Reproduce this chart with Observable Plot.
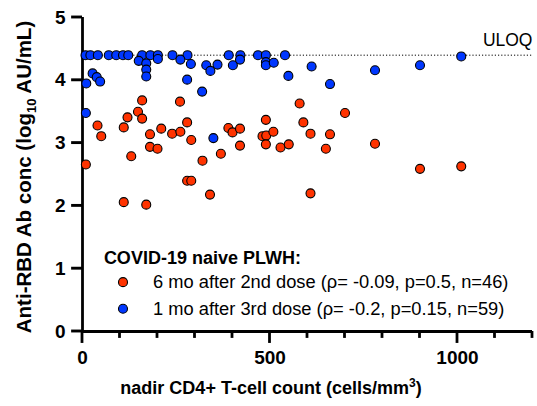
<!DOCTYPE html>
<html><head><meta charset="utf-8">
<script src="https://cdn.jsdelivr.net/npm/d3@7"></script>
<script src="https://cdn.jsdelivr.net/npm/@observablehq/plot@0.6"></script>
<style>body{margin:0;background:#fff} #chart svg{display:block}</style>
</head><body><div id="chart"></div>
<script>
// 6 mo after 2nd dose (red)
const redX = [159,260,579,148,159,120,40,110,50,180,210,239,261,279,290,389,400,420,489,480,490,509,589,608,180,200,420,489,528,550,9,130,320,369,279,290,340,608,110,170,700,660,649,780,900,1010];
const redY = [3.68,3.66,3.63,3.50,3.39,3.41,3.28,3.25,3.11,3.14,3.23,3.15,3.18,3.33,3.05,3.24,3.17,3.23,3.37,3.11,3.12,3.18,3.33,3.15,2.94,2.91,2.96,2.98,2.93,2.98,2.66,2.79,2.72,2.83,2.40,2.40,2.18,2.20,2.06,2.02,3.48,3.14,2.91,2.99,2.59,2.63];
// 1 mo after 3rd dose (blue)
const blueX = [8,21,41,70,90,108,122,159,181,201,240,280,390,421,468,489,540,1010,
  150,170,201,170,170,27,38,47,10,261,289,330,341,360,401,420,489,489,510,611,549,660,780,900,279,319,9,349];
const blueY = [4.40,4.40,4.40,4.40,4.40,4.40,4.40,4.40,4.40,4.40,4.40,4.40,4.40,4.40,4.40,4.40,4.40,4.38,
  4.31,4.27,4.34,4.17,4.06,4.11,4.05,3.98,3.95,4.33,4.26,4.24,4.15,4.25,4.24,4.33,4.29,4.24,4.28,4.22,4.07,3.94,4.16,4.24,4.01,3.82,3.48,3.08];

const uloq = 4.4;
const uloqLabel = "ULOQ";
const yTicks = [0,1,2,3,4,5];
const xMajor = [0,500,1000];
const xMinor = [100,200,300,400,600,700,800,900,1100,1200];
const seriesNames = ["6 mo after 2nd dose (ρ= -0.09, p=0.5, n=46)", "1 mo after 3rd dose (ρ= -0.2, p=0.15, n=59)"];
const seriesColors = ["#ff3300", "#0037ff"];
const legendTitle = "COVID-19 naive PLWH:";
// legend placement (in data units)
const legendDotX = 108, legendTextX = 188, legendTitleX = 57;
const legendRowY = [0.786, 0.362], legendTitleY = 1.164;
// tick lengths / half thickness (in data units)
const yTickLen = 29, xMajorLen = 0.19, xMinorLen = 0.11;
const yTickHalf = 0.023, xTickHalf = 3.7;

const red = redX.map((x, i) => ({x, y: redY[i]}));
const blue = blueX.map((x, i) => ({x, y: blueY[i]}));
const legendRows = seriesNames.map((name, i) => ({name, y: legendRowY[i]}));

const dotOpts = {r: 4.5, stroke: "#000", strokeWidth: 1.1};
const axisStroke = {stroke: "#000", strokeWidth: 2.8};

const plot = Plot.plot({
  width: 537, height: 406,
  marginLeft: 82, marginRight: 5, marginTop: 17, marginBottom: 75,
  style: {fontFamily: "'Liberation Sans', Arial, sans-serif", fontSize: "18px", color: "#000", background: "#fff"},
  x: {domain: [0, 1200]},
  y: {domain: [0, 5]},
  marks: [
    Plot.ruleY([uloq], {stroke: "#000", strokeWidth: 1, strokeDasharray: "1.2,2"}),
    Plot.text([uloqLabel], {x: 1200, y: uloq, text: d => d, textAnchor: "end", dy: -15, fontSize: 17.5}),
    Plot.axisY({ticks: yTicks, tickSize: 0, tickPadding: 17, tickFormat: d => String(d), fontWeight: "bold", fontSize: 19, label: null}),
    Plot.axisX({ticks: xMajor, tickSize: 0, tickPadding: 19, tickFormat: d => String(d), fontWeight: "bold", fontSize: 19, label: null}),
    // tick marks as filled rects
    Plot.rect(yTicks, {x1: -yTickLen, x2: 0, y1: d => d - yTickHalf, y2: d => d + yTickHalf, fill: "#000"}),
    Plot.rect(xMajor, {x1: d => d - xTickHalf, x2: d => d + xTickHalf, y1: -xMajorLen, y2: 0, fill: "#000"}),
    Plot.rect(xMinor, {x1: d => d - xTickHalf, x2: d => d + xTickHalf, y1: -xMinorLen, y2: 0, fill: "#000"}),
    Plot.ruleX([0], axisStroke),
    Plot.ruleY([0], axisStroke),
    Plot.dot(red, {x: "x", y: "y", fill: seriesColors[0], ...dotOpts}),
    Plot.dot(blue, {x: "x", y: "y", fill: seriesColors[1], ...dotOpts}),
    Plot.text([legendTitle], {x: legendTitleX, y: legendTitleY, text: d => d, textAnchor: "start", fontWeight: "bold", fontSize: 18}),
    Plot.dot(legendRows.slice(0, 1), {x: legendDotX, y: "y", fill: seriesColors[0], ...dotOpts}),
    Plot.dot(legendRows.slice(1, 2), {x: legendDotX, y: "y", fill: seriesColors[1], ...dotOpts}),
    Plot.text(legendRows, {x: legendTextX, y: "y", text: "name", textAnchor: "start", fontSize: 18.3})
  ]
});

const svg = d3.select(plot);
// x-axis title with superscript
const xt = svg.append("text").attr("x", 271).attr("y", 394).attr("text-anchor", "middle")
  .attr("font-weight", "bold").attr("font-size", 18).attr("fill", "#000");
xt.append("tspan").text("nadir CD4+ T-cell count (cells/mm");
xt.append("tspan").attr("dy", -7).attr("font-size", 12).text("3");
xt.append("tspan").attr("dy", 7).text(")");
// y-axis title with subscript
const yt = svg.append("text").attr("transform", "translate(31,177) rotate(-90)").attr("text-anchor", "middle")
  .attr("font-weight", "bold").attr("font-size", 20.5).attr("fill", "#000");
yt.append("tspan").text("Anti-RBD Ab conc (log");
yt.append("tspan").attr("dy", 5).attr("font-size", 13).text("10");
yt.append("tspan").attr("dy", -5).text(" AU/mL)");

document.getElementById("chart").appendChild(plot);
</script>
</body></html>
